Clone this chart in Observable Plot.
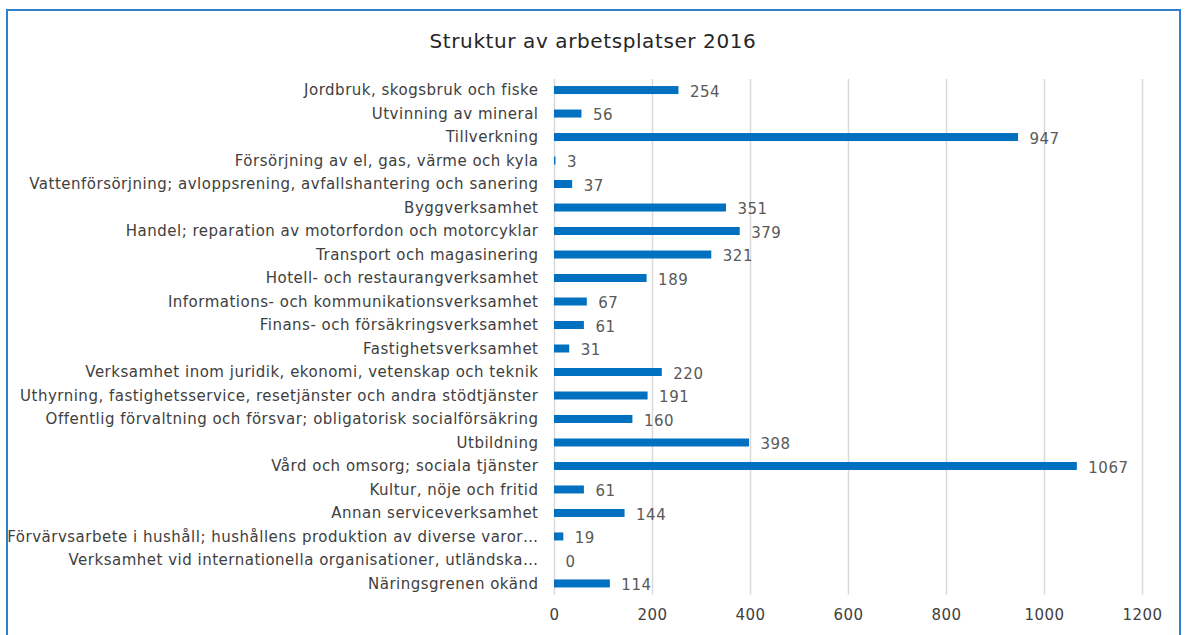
<!DOCTYPE html>
<html>
<head>
<meta charset="utf-8">
<script src="https://cdn.jsdelivr.net/npm/d3@7"></script>
<script src="https://cdn.jsdelivr.net/npm/@observablehq/plot@0.6"></script>
<style>
  html, body { margin: 0; padding: 0; background: #fff; overflow: hidden; }
  #wrap { position: relative; width: 1186px; height: 635px; overflow: hidden; font-family: "DejaVu Sans", sans-serif; letter-spacing: 0.6px; }
  #frame { position: absolute; left: 6px; top: 9px; width: 1175px; height: 660px; border: 2px solid #2f7fcc; box-sizing: border-box; }
  #title { position: absolute; left: 0; width: 1186px; top: 29px; text-align: center; font-size: 20px; color: #262626; }
  #chart { position: absolute; left: 0; top: 0; }
</style>
</head>
<body>
<div id="wrap">
  <div id="frame"></div>
  <div id="title">Struktur av arbetsplatser 2016</div>
  <div id="chart"></div>
</div>
<script>
const categories = [
  "Jordbruk, skogsbruk och fiske",
  "Utvinning av mineral",
  "Tillverkning",
  "Försörjning av el, gas, värme och kyla",
  "Vattenförsörjning; avloppsrening, avfallshantering och sanering",
  "Byggverksamhet",
  "Handel; reparation av motorfordon och motorcyklar",
  "Transport och magasinering",
  "Hotell- och restaurangverksamhet",
  "Informations- och kommunikationsverksamhet",
  "Finans- och försäkringsverksamhet",
  "Fastighetsverksamhet",
  "Verksamhet inom juridik, ekonomi, vetenskap och teknik",
  "Uthyrning, fastighetsservice, resetjänster och andra stödtjänster",
  "Offentlig förvaltning och försvar; obligatorisk socialförsäkring",
  "Utbildning",
  "Vård och omsorg; sociala tjänster",
  "Kultur, nöje och fritid",
  "Annan serviceverksamhet",
  "Förvärvsarbete i hushåll; hushållens produktion av diverse varor…",
  "Verksamhet vid internationella organisationer, utländska…",
  "Näringsgrenen okänd"
];
const values = [254, 56, 947, 3, 37, 351, 379, 321, 189, 67, 61, 31, 220, 191, 160, 398, 1067, 61, 144, 19, 0, 114];
const xTicks = [0, 200, 400, 600, 800, 1000, 1200];

const data = categories.map((c, i) => ({category: c, value: values[i]}));

const chart = Plot.plot({
  width: 1186,
  height: 635,
  marginTop: 79,
  marginBottom: 40.5,
  marginLeft: 554,
  marginRight: 44,
  style: {fontFamily: "DejaVu Sans, sans-serif", letterSpacing: "0.5px", background: "transparent", overflow: "visible"},
  x: {domain: [0, 1200], ticks: xTicks, label: null},
  y: {domain: categories, label: null, paddingInner: 0.66, paddingOuter: 0.3, round: false},
  marks: [
    Plot.gridX(xTicks, {stroke: "#d9d9d9", strokeOpacity: 1, strokeWidth: 1.5}),
    Plot.barX(data, {x: "value", y: "category", fill: "#0070c0"}),
    Plot.text(data, {x: "value", y: "category", text: d => String(d.value), textAnchor: "start", dx: 11, dy: 1.5, fill: "#595959", fontSize: 15}),
    Plot.axisX({ticks: xTicks, tickFormat: d => String(d), tickSize: 0, tickPadding: 14, fontSize: 15, color: "#404040", label: null}),
    Plot.axisY({tickSize: 0, tickPadding: 16, fontSize: 15, color: "#404040", label: null})
  ]
});
document.getElementById("chart").appendChild(chart);
</script>
</body>
</html>
